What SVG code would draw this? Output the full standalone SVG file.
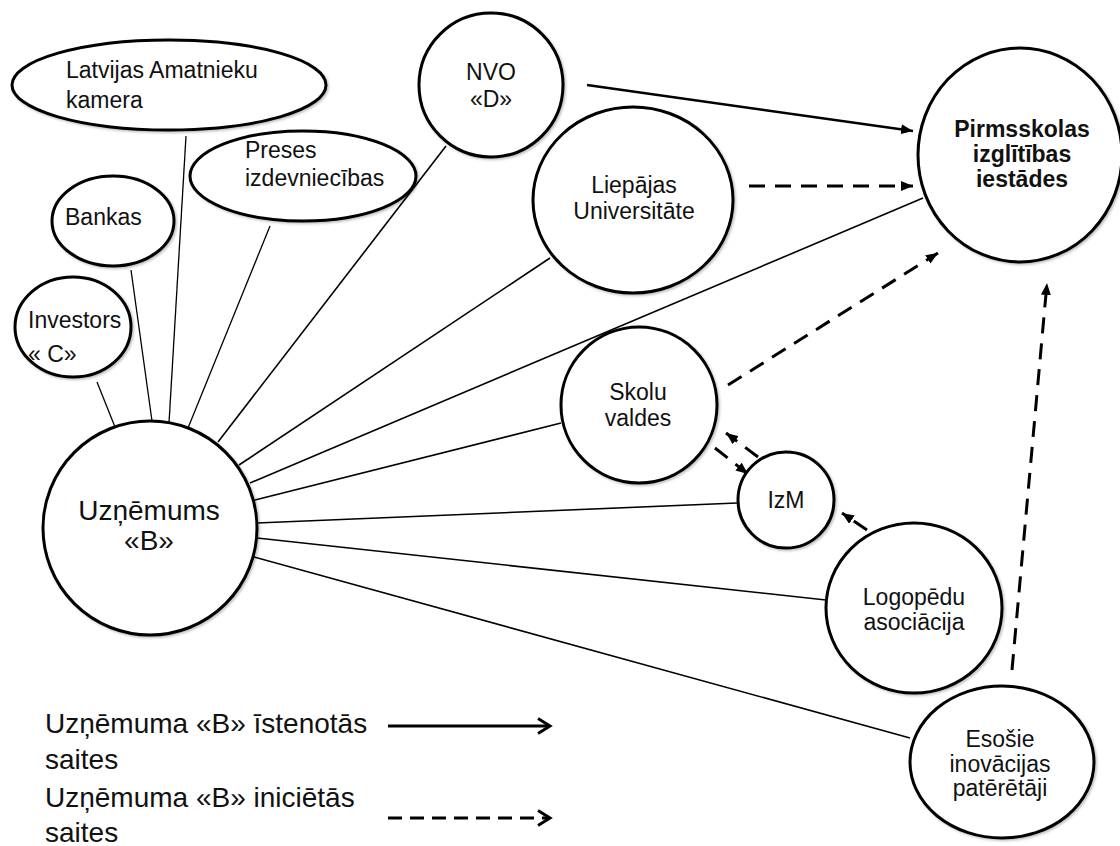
<svg xmlns="http://www.w3.org/2000/svg" width="1120" height="846" viewBox="0 0 1120 846">
  <defs>
    <style>
      .node { fill: #ffffff; stroke: #000000; stroke-width: 3; }
      .lbl { font-family: "Liberation Sans", Arial, sans-serif; font-size: 23px; fill: #111111; }
      .mid { text-anchor: middle; }
      .bold { font-weight: bold; }
      .big { font-size: 28px; }
      .tie { stroke: #000000; stroke-width: 1.6; fill: none; }
      .thin { stroke-width: 1.3; }
      .done { stroke: #000000; stroke-width: 2.6; fill: none; marker-end: url(#head); }
      .plan { stroke: #000000; stroke-width: 3; fill: none; stroke-dasharray: 16 10; marker-end: url(#head); }
      .key { stroke: #000000; stroke-width: 2.8; fill: none; marker-end: url(#chevron); }
    </style>
    <marker id="head" viewBox="0 0 12 10" refX="12" refY="5" markerWidth="12" markerHeight="10" markerUnits="userSpaceOnUse" orient="auto">
      <path d="M0,0 L12,5 L0,10 z" fill="#000000"/>
    </marker>
    <marker id="chevron" viewBox="-2 -2 16 19" refX="12" refY="7.5" markerWidth="16" markerHeight="19" markerUnits="userSpaceOnUse" orient="auto" overflow="visible">
      <path d="M0,0 L12,7.5 L0,15" fill="none" stroke="#000000" stroke-width="3"/>
    </marker>
    <filter id="soft" x="-10%" y="-10%" width="120%" height="120%">
      <feDropShadow dx="1.5" dy="1.5" stdDeviation="1.2" flood-color="#000000" flood-opacity="0.25"/>
    </filter>
  </defs>

  <rect width="1120" height="846" fill="#ffffff"/>

  <!-- ties from Uzņēmums «B» and arrows between partners -->
  <g id="connectors">
    <line class="tie thin" x1="97" y1="382" x2="115" y2="427"/>
    <line class="tie thin" x1="131" y1="270" x2="152" y2="421"/>
    <line class="tie thin" x1="186" y1="136" x2="169" y2="423"/>
    <line class="tie thin" x1="270" y1="226" x2="188" y2="428"/>
    <line class="tie" x1="446" y1="146" x2="218" y2="442"/>
    <line class="tie" x1="550" y1="258" x2="239" y2="465"/>
    <line class="tie" x1="923" y1="198" x2="250" y2="483"/>
    <line class="tie" x1="561" y1="423" x2="255" y2="500"/>
    <line class="tie" x1="737" y1="503" x2="257" y2="523"/>
    <line class="tie" x1="826" y1="600" x2="257" y2="538"/>
    <line class="tie" x1="910" y1="738" x2="254" y2="557"/>

    <line class="done" x1="587" y1="85" x2="913" y2="131"/>
    <line class="plan" x1="749" y1="186" x2="913" y2="186"/>
    <line class="plan" x1="728" y1="385" x2="938" y2="253"/>
    <line class="plan" x1="1012" y1="670" x2="1047" y2="283"/>
    <line class="plan" x1="758" y1="457" x2="726" y2="433"/>
    <line class="plan" x1="715" y1="448" x2="748" y2="474"/>
    <line class="plan" x1="867" y1="530" x2="842" y2="513"/>
  </g>

  <g id="latvijas-amatnieku-kamera">
    <ellipse class="node" filter="url(#soft)" cx="169" cy="85" rx="157" ry="45"/>
    <text class="lbl" x="66" y="78">Latvijas Amatnieku</text>
    <text class="lbl" x="66" y="108">kamera</text>
  </g>

  <g id="preses-izdevniecibas">
    <ellipse class="node" filter="url(#soft)" cx="303" cy="176" rx="113" ry="45"/>
    <text class="lbl" x="245" y="158">Preses</text>
    <text class="lbl" x="245" y="186">izdevniecības</text>
  </g>

  <g id="bankas">
    <ellipse class="node" filter="url(#soft)" cx="113" cy="221" rx="61" ry="45"/>
    <text class="lbl" x="65" y="225">Bankas</text>
  </g>

  <g id="investors-c">
    <ellipse class="node" filter="url(#soft)" cx="73" cy="327" rx="58" ry="50"/>
    <text class="lbl" x="28" y="328">Investors</text>
    <text class="lbl" x="28" y="362">« C»</text>
  </g>

  <g id="nvo-d">
    <circle class="node" filter="url(#soft)" cx="491" cy="85" r="72"/>
    <text class="lbl mid" x="491" y="80">NVO</text>
    <text class="lbl mid" x="491" y="107">«D»</text>
  </g>

  <g id="liepajas-universitate">
    <ellipse class="node" filter="url(#soft)" cx="633" cy="200" rx="100" ry="93"/>
    <text class="lbl mid" x="634" y="193">Liepājas</text>
    <text class="lbl mid" x="634" y="219">Universitāte</text>
  </g>

  <g id="pirmsskolas-iestades">
    <ellipse class="node" filter="url(#soft)" cx="1020" cy="155" rx="102" ry="107"/>
    <text class="lbl mid bold" x="1022" y="137">Pirmsskolas</text>
    <text class="lbl mid bold" x="1022" y="162">izglītības</text>
    <text class="lbl mid bold" x="1022" y="187">iestādes</text>
  </g>

  <g id="skolu-valdes">
    <circle class="node" filter="url(#soft)" cx="639" cy="405" r="78"/>
    <text class="lbl mid" x="638" y="400">Skolu</text>
    <text class="lbl mid" x="638" y="426">valdes</text>
  </g>

  <g id="izm">
    <circle class="node" filter="url(#soft)" cx="786" cy="500" r="48"/>
    <text class="lbl mid" x="786" y="508">IzM</text>
  </g>

  <g id="logopedu-asociacija">
    <ellipse class="node" filter="url(#soft)" cx="914" cy="608" rx="88" ry="85"/>
    <text class="lbl mid" x="914" y="605">Logopēdu</text>
    <text class="lbl mid" x="914" y="630">asociācija</text>
  </g>

  <g id="esosie-pateretaji">
    <ellipse class="node" filter="url(#soft)" cx="1002" cy="762" rx="92" ry="76"/>
    <text class="lbl mid" x="1000" y="747">Esošie</text>
    <text class="lbl mid" x="1000" y="772">inovācijas</text>
    <text class="lbl mid" x="1000" y="796">patērētāji</text>
  </g>

  <g id="uznemums-b">
    <circle class="node" filter="url(#soft)" cx="150" cy="528" r="107"/>
    <text class="lbl mid big" x="149" y="520">Uzņēmums</text>
    <text class="lbl mid big" x="149" y="550">«B»</text>
  </g>

  <g id="legend">
    <text class="lbl big" x="45" y="733">Uzņēmuma «B» īstenotās</text>
    <text class="lbl big" x="45" y="769">saites</text>
    <text class="lbl big" x="45" y="807">Uzņēmuma «B» iniciētās</text>
    <text class="lbl big" x="45" y="842">saites</text>
    <line class="key" x1="388" y1="726" x2="550" y2="726"/>
    <line class="key" x1="388" y1="818" x2="550" y2="818" stroke-dasharray="14 8"/>
  </g>
</svg>
